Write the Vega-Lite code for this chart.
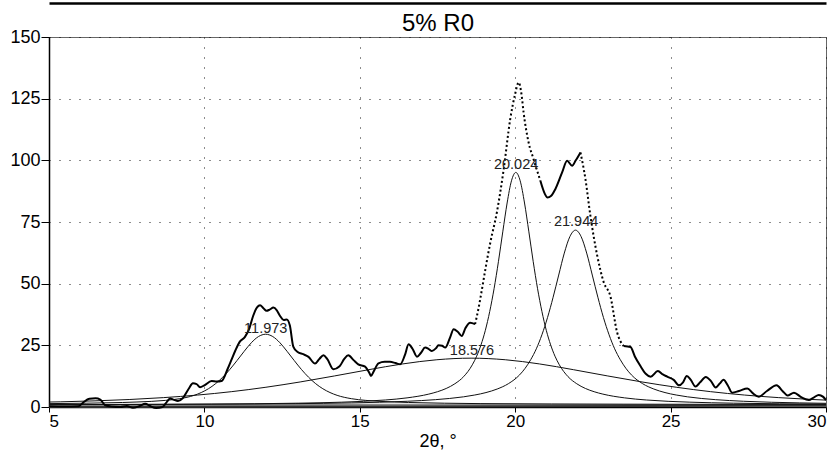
{
 "$schema": "https://vega.github.io/schema/vega-lite/v6.json",
 "width": 777,
 "height": 370,
 "autosize": {"type": "none"},
 "padding": {"left": 49, "top": 37, "right": 12, "bottom": 47},
 "background": "white",
 "config": {
  "view": {"stroke": "#666", "strokeWidth": 1},
  "axis": {"labelFont": "Liberation Sans", "titleFont": "Liberation Sans", "labelColor": "black", "titleColor": "black", "domainColor": "black", "tickColor": "black", "gridColor": "black", "gridDash": [1, 9], "gridWidth": 1, "gridOpacity": 0.9}
 },
 "datasets": {
  "exp": [
   {"x":5.0,"y":0.3},{"x":5.5,"y":0.2},{"x":5.95,"y":0.3},{"x":6.1,"y":1.8},{"x":6.3,"y":3.3},{"x":6.5,"y":3.5},{"x":6.65,"y":3.0},{"x":6.8,"y":0.8},{"x":7.0,"y":0.2},{"x":7.3,"y":0.0},{"x":7.5,"y":0.4},{"x":7.7,"y":-0.3},{"x":7.9,"y":0.3},{"x":8.1,"y":1.3},{"x":8.25,"y":0.4},{"x":8.45,"y":-0.4},{"x":8.65,"y":0.0},{"x":8.8,"y":2.2},{"x":8.9,"y":3.4},{"x":9.0,"y":3.0},{"x":9.15,"y":2.4},{"x":9.3,"y":3.5},{"x":9.5,"y":7.5},{"x":9.63,"y":9.6},{"x":9.75,"y":9.3},{"x":9.86,"y":8.0},{"x":10.0,"y":8.8},{"x":10.23,"y":10.5},{"x":10.4,"y":10.3},{"x":10.55,"y":10.5},{"x":10.75,"y":15.5},{"x":10.88,"y":19.4},{"x":11.0,"y":23},{"x":11.14,"y":26.5},{"x":11.3,"y":28.3},{"x":11.45,"y":32},{"x":11.57,"y":37},{"x":11.7,"y":40.5},{"x":11.79,"y":41.3},{"x":11.9,"y":40},{"x":12.0,"y":39},{"x":12.1,"y":39.5},{"x":12.22,"y":40.3},{"x":12.33,"y":39.2},{"x":12.43,"y":37},{"x":12.55,"y":35.3},{"x":12.65,"y":35.5},{"x":12.75,"y":33},{"x":12.86,"y":24.5},{"x":13.0,"y":22.3},{"x":13.18,"y":21.4},{"x":13.35,"y":20.3},{"x":13.56,"y":17.6},{"x":13.7,"y":19.5},{"x":13.83,"y":21},{"x":13.95,"y":19.5},{"x":14.15,"y":15.3},{"x":14.35,"y":16.5},{"x":14.5,"y":19.5},{"x":14.63,"y":21},{"x":14.8,"y":19},{"x":14.95,"y":17.3},{"x":15.17,"y":16.4},{"x":15.3,"y":14.0},{"x":15.36,"y":12.6},{"x":15.45,"y":14.5},{"x":15.6,"y":17.7},{"x":15.8,"y":18.3},{"x":15.97,"y":18.3},{"x":16.15,"y":17.8},{"x":16.3,"y":17.3},{"x":16.45,"y":21},{"x":16.57,"y":25.4},{"x":16.7,"y":23.5},{"x":16.84,"y":20.4},{"x":16.97,"y":22.0},{"x":17.1,"y":24.1},{"x":17.22,"y":23.5},{"x":17.32,"y":22.7},{"x":17.45,"y":23.8},{"x":17.53,"y":25},{"x":17.65,"y":24.8},{"x":17.75,"y":24.1},{"x":17.9,"y":28},{"x":18.02,"y":31.5},{"x":18.15,"y":30.5},{"x":18.28,"y":28.8},{"x":18.4,"y":32},{"x":18.55,"y":34.2},{"x":18.71,"y":33.6},{"x":18.82,"y":40},{"x":18.93,"y":47.7},{"x":19.04,"y":55.8},{"x":19.2,"y":66.7},{"x":19.41,"y":78.9},{"x":19.63,"y":96.4},{"x":19.84,"y":116.7},{"x":20.0,"y":127},{"x":20.11,"y":131.6},{"x":20.2,"y":127},{"x":20.27,"y":119.4},{"x":20.43,"y":107.3},{"x":20.59,"y":100.5},{"x":20.81,"y":91.7},{"x":20.95,"y":86.5},{"x":21.04,"y":84.9},{"x":21.15,"y":85.5},{"x":21.29,"y":88.3},{"x":21.51,"y":95.1},{"x":21.67,"y":99.8},{"x":21.83,"y":97.8},{"x":21.95,"y":100},{"x":22.1,"y":103.2},{"x":22.26,"y":92.4},{"x":22.42,"y":77.5},{"x":22.64,"y":61.3},{"x":22.85,"y":50.5},{"x":23.06,"y":45},{"x":23.28,"y":30.2},{"x":23.49,"y":24.7},{"x":23.71,"y":24.3},{"x":23.85,"y":20.5},{"x":24.03,"y":16.6},{"x":24.2,"y":13.5},{"x":24.36,"y":12.3},{"x":24.59,"y":14.6},{"x":24.75,"y":13.2},{"x":24.89,"y":12.3},{"x":25.1,"y":11},{"x":25.27,"y":8.8},{"x":25.4,"y":10},{"x":25.52,"y":12.6},{"x":25.65,"y":11},{"x":25.8,"y":8.3},{"x":25.95,"y":10},{"x":26.13,"y":12.2},{"x":26.3,"y":10.5},{"x":26.45,"y":7.9},{"x":26.58,"y":9.5},{"x":26.7,"y":11},{"x":26.85,"y":8.5},{"x":26.98,"y":5.8},{"x":27.2,"y":6.5},{"x":27.47,"y":7.5},{"x":27.65,"y":5.5},{"x":27.84,"y":4.2},{"x":28.1,"y":6.5},{"x":28.41,"y":8.8},{"x":28.6,"y":6.5},{"x":28.76,"y":4.7},{"x":28.97,"y":5.8},{"x":29.2,"y":4.0},{"x":29.45,"y":2.8},{"x":29.6,"y":3.8},{"x":29.77,"y":4.9},{"x":29.9,"y":4.2},{"x":30.0,"y":2.8}
  ],
  "comps": [
   {"peak":"p1","x":5.0,"y":1.38},{"peak":"p1","x":6.22,"y":1.54},{"peak":"p1","x":7.37,"y":1.83},{"peak":"p1","x":7.83,"y":2.03},{"peak":"p1","x":8.29,"y":2.28},{"peak":"p1","x":8.75,"y":2.68},{"peak":"p1","x":9.21,"y":3.37},{"peak":"p1","x":9.67,"y":4.73},{"peak":"p1","x":9.9,"y":5.87},{"peak":"p1","x":10.13,"y":7.41},{"peak":"p1","x":10.36,"y":9.46},{"peak":"p1","x":10.59,"y":12.09},{"peak":"p1","x":10.82,"y":15.25},{"peak":"p1","x":11.05,"y":18.84},{"peak":"p1","x":11.28,"y":22.57},{"peak":"p1","x":11.51,"y":26.05},{"peak":"p1","x":11.74,"y":28.56},{"peak":"p1","x":11.97,"y":29.5},{"peak":"p1","x":12.2,"y":28.56},{"peak":"p1","x":12.43,"y":26.05},{"peak":"p1","x":12.66,"y":22.57},{"peak":"p1","x":12.89,"y":18.84},{"peak":"p1","x":13.12,"y":15.25},{"peak":"p1","x":13.35,"y":12.09},{"peak":"p1","x":13.58,"y":9.46},{"peak":"p1","x":13.81,"y":7.41},{"peak":"p1","x":14.04,"y":5.87},{"peak":"p1","x":14.27,"y":4.73},{"peak":"p1","x":14.73,"y":3.37},{"peak":"p1","x":15.19,"y":2.68},{"peak":"p1","x":15.65,"y":2.28},{"peak":"p1","x":16.11,"y":2.03},{"peak":"p1","x":16.57,"y":1.83},{"peak":"p1","x":17.72,"y":1.54},{"peak":"p1","x":18.87,"y":1.38},{"peak":"p1","x":21.17,"y":1.22},{"peak":"p1","x":23.47,"y":1.14},{"peak":"p1","x":28.07,"y":1.07},{"peak":"p1","x":30.0,"y":1.06},
   {"peak":"p2","x":5.0,"y":2.01},{"peak":"p2","x":5.38,"y":2.1},{"peak":"p2","x":6.48,"y":2.49},{"peak":"p2","x":7.58,"y":3.03},{"peak":"p2","x":8.68,"y":3.8},{"peak":"p2","x":9.78,"y":4.84},{"peak":"p2","x":10.88,"y":6.23},{"peak":"p2","x":11.98,"y":8.01},{"peak":"p2","x":13.08,"y":10.15},{"peak":"p2","x":14.18,"y":12.58},{"peak":"p2","x":15.28,"y":15.11},{"peak":"p2","x":16.38,"y":17.46},{"peak":"p2","x":17.48,"y":19.16},{"peak":"p2","x":18.58,"y":19.8},{"peak":"p2","x":19.68,"y":19.16},{"peak":"p2","x":20.78,"y":17.46},{"peak":"p2","x":21.88,"y":15.11},{"peak":"p2","x":22.98,"y":12.58},{"peak":"p2","x":24.08,"y":10.15},{"peak":"p2","x":25.18,"y":8.01},{"peak":"p2","x":26.28,"y":6.23},{"peak":"p2","x":27.38,"y":4.84},{"peak":"p2","x":28.48,"y":3.8},{"peak":"p2","x":29.58,"y":3.03},{"peak":"p2","x":30.0,"y":2.8},
   {"peak":"p3","x":5.0,"y":0.97},{"peak":"p3","x":10.22,"y":1.19},{"peak":"p3","x":13.02,"y":1.55},{"peak":"p3","x":14.42,"y":1.96},{"peak":"p3","x":15.82,"y":2.84},{"peak":"p3","x":16.52,"y":3.7},{"peak":"p3","x":17.22,"y":5.23},{"peak":"p3","x":17.5,"y":6.2},{"peak":"p3","x":17.78,"y":7.51},{"peak":"p3","x":18.06,"y":9.43},{"peak":"p3","x":18.34,"y":12.3},{"peak":"p3","x":18.62,"y":17.1},{"peak":"p3","x":18.76,"y":20.6},{"peak":"p3","x":18.9,"y":25.2},{"peak":"p3","x":19.04,"y":31.1},{"peak":"p3","x":19.18,"y":38.7},{"peak":"p3","x":19.32,"y":47.95},{"peak":"p3","x":19.46,"y":58.9},{"peak":"p3","x":19.6,"y":71.0},{"peak":"p3","x":19.74,"y":82.7},{"peak":"p3","x":19.88,"y":91.7},{"peak":"p3","x":20.02,"y":95.1},{"peak":"p3","x":20.16,"y":91.7},{"peak":"p3","x":20.3,"y":82.7},{"peak":"p3","x":20.44,"y":71.0},{"peak":"p3","x":20.58,"y":58.9},{"peak":"p3","x":20.72,"y":47.95},{"peak":"p3","x":20.86,"y":38.7},{"peak":"p3","x":21.0,"y":31.1},{"peak":"p3","x":21.14,"y":25.2},{"peak":"p3","x":21.28,"y":20.6},{"peak":"p3","x":21.42,"y":17.1},{"peak":"p3","x":21.7,"y":12.3},{"peak":"p3","x":21.98,"y":9.43},{"peak":"p3","x":22.26,"y":7.51},{"peak":"p3","x":22.54,"y":6.2},{"peak":"p3","x":22.82,"y":5.23},{"peak":"p3","x":23.52,"y":3.7},{"peak":"p3","x":24.22,"y":2.84},{"peak":"p3","x":25.62,"y":1.96},{"peak":"p3","x":27.02,"y":1.55},{"peak":"p3","x":30.0,"y":1.18},
   {"peak":"p4","x":5.0,"y":0.96},{"peak":"p4","x":9.34,"y":1.09},{"peak":"p4","x":12.94,"y":1.36},{"peak":"p4","x":14.74,"y":1.67},{"peak":"p4","x":16.54,"y":2.33},{"peak":"p4","x":17.44,"y":2.98},{"peak":"p4","x":18.34,"y":4.13},{"peak":"p4","x":18.7,"y":4.86},{"peak":"p4","x":19.06,"y":5.85},{"peak":"p4","x":19.42,"y":7.29},{"peak":"p4","x":19.78,"y":9.45},{"peak":"p4","x":20.14,"y":13.0},{"peak":"p4","x":20.32,"y":15.7},{"peak":"p4","x":20.5,"y":19.2},{"peak":"p4","x":20.68,"y":23.6},{"peak":"p4","x":20.86,"y":29.3},{"peak":"p4","x":21.04,"y":36.25},{"peak":"p4","x":21.22,"y":44.5},{"peak":"p4","x":21.4,"y":53.5},{"peak":"p4","x":21.58,"y":62.4},{"peak":"p4","x":21.76,"y":69.1},{"peak":"p4","x":21.94,"y":71.7},{"peak":"p4","x":22.12,"y":69.1},{"peak":"p4","x":22.3,"y":62.4},{"peak":"p4","x":22.48,"y":53.5},{"peak":"p4","x":22.66,"y":44.5},{"peak":"p4","x":22.84,"y":36.25},{"peak":"p4","x":23.02,"y":29.3},{"peak":"p4","x":23.2,"y":23.6},{"peak":"p4","x":23.38,"y":19.2},{"peak":"p4","x":23.56,"y":15.7},{"peak":"p4","x":23.74,"y":13.0},{"peak":"p4","x":24.1,"y":9.45},{"peak":"p4","x":24.46,"y":7.29},{"peak":"p4","x":24.82,"y":5.85},{"peak":"p4","x":25.18,"y":4.86},{"peak":"p4","x":25.54,"y":4.13},{"peak":"p4","x":26.44,"y":2.98},{"peak":"p4","x":27.34,"y":2.33},{"peak":"p4","x":29.14,"y":1.67},{"peak":"p4","x":30.0,"y":1.5}
  ],
  "floor": [
   {"s":"gray","x":5.0,"y":0.3},{"s":"gray","x":10.0,"y":0.6},{"s":"gray","x":15.0,"y":0.9},{"s":"gray","x":20.0,"y":0.9},{"s":"gray","x":25.0,"y":0.8},{"s":"gray","x":30.0,"y":0.8},
   {"s":"dark","x":5.0,"y":0.0},{"s":"dark","x":15.0,"y":0.2},{"s":"dark","x":20.0,"y":0.3},{"s":"dark","x":30.0,"y":0.5}
  ],
  "labels": [
   {"x":11.973,"y":30.2,"label":"11.973"},
   {"x":18.61,"y":21.0,"label":"18.576"},
   {"x":20.03,"y":96.5,"label":"20.024"},
   {"x":21.96,"y":73.3,"label":"21.944"}
  ]
 },
 "layer": [
  {
   "data": {"name": "floor"},
   "mark": {"type": "line", "strokeWidth": 2, "clip": false},
   "encoding": {
    "x": {"field": "x", "type": "quantitative", "scale": {"domain": [5, 30], "nice": false, "zero": false}, "axis": null},
    "y": {"field": "y", "type": "quantitative", "scale": {"domain": [0, 150], "nice": false, "zero": false}},
    "detail": {"field": "s"},
    "color": {"field": "s", "type": "nominal", "scale": {"domain": ["gray", "dark"], "range": ["#8a8a8a", "#333333"]}, "legend": null}
   }
  },
  {
   "mark": {"type": "rule", "color": "#444", "strokeDash": [1, 1], "strokeWidth": 1},
   "encoding": {"y": {"datum": 1.8}}
  },
  {
   "data": {"name": "comps"},
   "mark": {"type": "line", "interpolate": "monotone", "color": "#111", "strokeWidth": 1},
   "encoding": {
    "x": {"field": "x", "type": "quantitative", "axis": null},
    "y": {"field": "y", "type": "quantitative"},
    "detail": {"field": "peak"}
   }
  },
  {
   "data": {"name": "exp"},
   "transform": [{"filter": {"field": "x", "range": [5, 18.71]}}],
   "mark": {"type": "line", "interpolate": "monotone", "color": "black", "strokeWidth": 2, "clip": false},
   "encoding": {
    "x": {"field": "x", "type": "quantitative", "axis": {"orient": "bottom", "values": [5, 10, 15, 20, 25, 30], "tickSize": 5, "labelPadding": 1, "labelFontSize": 17, "title": "2θ, °", "titleFontSize": 18, "titleFontWeight": "normal", "titlePadding": 3, "grid": true, "domainWidth": 1.5}},
    "y": {"field": "y", "type": "quantitative", "axis": {"values": [0, 25, 50, 75, 100, 125, 150], "tickSize": 8, "labelPadding": 1, "labelFontSize": 18, "title": null, "grid": true, "domainWidth": 1.5}}
   }
  },
  {
   "data": {"name": "exp"},
   "transform": [{"filter": {"field": "x", "range": [18.71, 20.81]}}],
   "mark": {"type": "line", "interpolate": "monotone", "color": "black", "strokeWidth": 2, "strokeDash": [2, 2.5]},
   "encoding": {
    "x": {"field": "x", "type": "quantitative", "axis": null},
    "y": {"field": "y", "type": "quantitative"}
   }
  },
  {
   "data": {"name": "exp"},
   "transform": [{"filter": {"field": "x", "range": [20.81, 22.1]}}],
   "mark": {"type": "line", "interpolate": "monotone", "color": "black", "strokeWidth": 2},
   "encoding": {
    "x": {"field": "x", "type": "quantitative", "axis": null},
    "y": {"field": "y", "type": "quantitative"}
   }
  },
  {
   "data": {"name": "exp"},
   "transform": [{"filter": {"field": "x", "range": [22.1, 23.49]}}],
   "mark": {"type": "line", "interpolate": "monotone", "color": "black", "strokeWidth": 2, "strokeDash": [2, 2.5]},
   "encoding": {
    "x": {"field": "x", "type": "quantitative", "axis": null},
    "y": {"field": "y", "type": "quantitative"}
   }
  },
  {
   "data": {"name": "exp"},
   "transform": [{"filter": {"field": "x", "range": [23.49, 30]}}],
   "mark": {"type": "line", "interpolate": "monotone", "color": "black", "strokeWidth": 2, "clip": false},
   "encoding": {
    "x": {"field": "x", "type": "quantitative", "axis": null},
    "y": {"field": "y", "type": "quantitative"}
   }
  },
  {
   "data": {"name": "labels"},
   "mark": {"type": "text", "fontSize": 14.5, "font": "Liberation Sans", "color": "#222", "baseline": "alphabetic", "align": "center"},
   "encoding": {
    "x": {"field": "x", "type": "quantitative", "axis": null},
    "y": {"field": "y", "type": "quantitative"},
    "text": {"field": "label"}
   }
  },
  {
   "data": {"name": "labels"},
   "mark": {"type": "point", "opacity": 0},
   "encoding": {
    "x": {"field": "x", "type": "quantitative", "axis": {"orient": "top", "offset": 34, "domainWidth": 2.5, "domainColor": "black", "labels": false, "ticks": false, "grid": false, "title": "5% R0", "titleFontSize": 24, "titleFontWeight": "normal", "titleBaseline": "alphabetic", "titleY": 27, "titleAnchor": "middle"}},
    "y": {"field": "y", "type": "quantitative"}
   }
  }
 ],
 "resolve": {"axis": {"x": "independent"}}
}
